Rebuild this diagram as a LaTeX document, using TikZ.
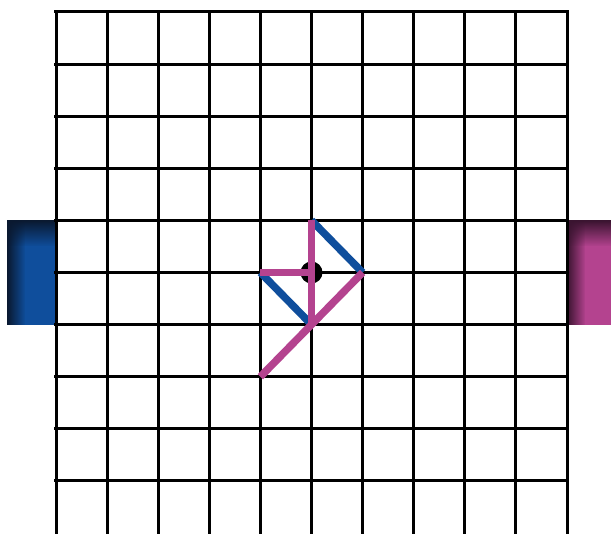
\documentclass[tikz,border=0pt]{standalone}
\usepackage{tikz}
\usetikzlibrary{fadings}
\definecolor{homeblue}{HTML}{0F4E9C}
\definecolor{homedark}{HTML}{0A1930}
\definecolor{awaypink}{HTML}{B4438F}
\definecolor{awaydark}{HTML}{3A1430}
\tikzfading[name=fade down,top color=transparent!0,bottom color=transparent!100]
\tikzfading[name=fade right,left color=transparent!0,right color=transparent!100]
\tikzset{
  gridline/.style={black,line width=3pt},
  bluemove/.style={homeblue,line width=7.5pt},
  pinkmove/.style={awaypink,line width=7.5pt}
}
\begin{document}
\begin{tikzpicture}[x=51.1pt,y=-52.1pt]
  \useasboundingbox (-1.0959,-0.2303) rectangle (10.861,10.0192);
  % goals
  \fill[homeblue] (-0.959,4) rectangle (0,6);
  \fill[homedark,path fading=fade right] (-0.959,4) rectangle (-0.6,6);
  \fill[homedark,path fading=fade down] (-0.959,4) rectangle (0,4.5);
  \fill[awaypink] (10,4) rectangle (10.861,6);
  \fill[awaydark,path fading=fade right] (10,4) rectangle (10.36,6);
  \fill[awaydark,path fading=fade down] (10,4) rectangle (10.861,4.5);
  % pitch grid
  \foreach \i in {0,...,10}
    \draw[gridline] (\i,-0.03) -- (\i,10.0192);
  \foreach \j in {0,...,9}
    \draw[gridline] (-0.03,\j) -- (10.03,\j);
  % moves
  \coordinate (top) at (5,4);
  \coordinate (right) at (6,5);
  \coordinate (left) at (4,5);
  \coordinate (bottom) at (5,6);
  \coordinate (low) at (4,7);
  \node[circle,fill=black,minimum size=22pt,inner sep=0pt] (ball) at (5,5) {};
  \draw[bluemove] (top) -- (right);
  \draw[bluemove] (left) -- (bottom);
  \draw[pinkmove] (left) -- (ball.center);
  \draw[pinkmove] (top) -- (bottom);
  \draw[pinkmove] (right) -- (low);
\end{tikzpicture}
\end{document}
